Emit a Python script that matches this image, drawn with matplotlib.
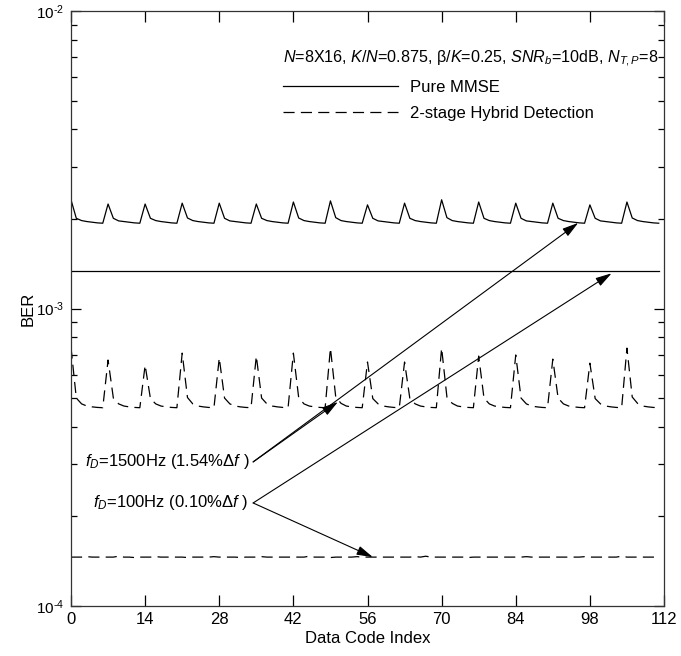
import math
import matplotlib
matplotlib.use("Agg")
import matplotlib.pyplot as plt
from matplotlib.ticker import LogLocator, NullFormatter, FixedLocator, FuncFormatter

plt.rcParams['font.family'] = ['Liberation Sans', 'DejaVu Sans']
plt.rcParams['mathtext.fontset'] = 'custom'
plt.rcParams['mathtext.rm'] = 'Liberation Sans'
plt.rcParams['mathtext.it'] = 'Liberation Sans:italic'
plt.rcParams['mathtext.sf'] = 'Liberation Sans'
plt.rcParams['axes.unicode_minus'] = False
plt.rcParams['lines.scale_dashes'] = False

# ---------------- data ----------------
x_index = list(range(112))

# fD = 1500 Hz, pure MMSE (BER, x1e-3), one row per 7-code period
mmse_1500 = [
    2.32, 2.01, 1.975, 1.96, 1.95, 1.94, 1.935,
    2.245, 2.01, 1.97, 1.96, 1.95, 1.94, 1.935,
    2.245, 2.01, 1.975, 1.96, 1.95, 1.94, 1.935,
    2.26, 2.015, 1.975, 1.96, 1.95, 1.94, 1.935,
    2.26, 2.01, 1.97, 1.96, 1.95, 1.94, 1.935,
    2.245, 2.01, 1.975, 1.96, 1.95, 1.94, 1.935,
    2.28, 2.015, 1.975, 1.96, 1.95, 1.94, 1.935,
    2.30, 2.02, 1.975, 1.96, 1.95, 1.94, 1.935,
    2.23, 2.01, 1.97, 1.96, 1.95, 1.94, 1.935,
    2.26, 2.01, 1.975, 1.96, 1.95, 1.94, 1.935,
    2.32, 2.02, 1.975, 1.96, 1.95, 1.94, 1.935,
    2.28, 2.01, 1.975, 1.96, 1.95, 1.94, 1.935,
    2.26, 2.01, 1.97, 1.96, 1.95, 1.94, 1.935,
    2.26, 2.01, 1.975, 1.96, 1.95, 1.94, 1.935,
    2.23, 2.01, 1.97, 1.96, 1.95, 1.94, 1.935,
    2.28, 2.015, 1.975, 1.96, 1.95, 1.94, 1.935,
]

# fD = 1500 Hz, 2-stage hybrid detection (BER, x1e-4)
hybrid_1500 = [
    7.40, 5.00, 4.78, 4.70, 4.67, 4.65, 4.64,
    6.71, 5.00, 4.78, 4.70, 4.67, 4.65, 4.64,
    6.45, 4.98, 4.78, 4.70, 4.67, 4.65, 4.64,
    7.08, 5.02, 4.78, 4.70, 4.67, 4.65, 4.64,
    6.82, 5.00, 4.78, 4.70, 4.67, 4.65, 4.64,
    6.92, 5.00, 4.78, 4.70, 4.67, 4.65, 4.64,
    7.08, 5.02, 4.78, 4.70, 4.67, 4.65, 4.64,
    7.36, 5.04, 4.80, 4.70, 4.67, 4.65, 4.64,
    6.61, 4.98, 4.78, 4.70, 4.67, 4.65, 4.64,
    6.61, 4.98, 4.78, 4.70, 4.67, 4.65, 4.64,
    7.36, 5.04, 4.80, 4.70, 4.67, 4.65, 4.64,
    6.92, 5.00, 4.78, 4.70, 4.67, 4.65, 4.64,
    6.98, 5.00, 4.78, 4.70, 4.67, 4.65, 4.64,
    6.76, 5.00, 4.78, 4.70, 4.67, 4.65, 4.64,
    6.55, 4.98, 4.78, 4.70, 4.67, 4.65, 4.64,
    7.36, 5.04, 4.80, 4.70, 4.67, 4.65, 4.64,
]

# fD = 100 Hz, pure MMSE (BER, x1e-3)
mmse_100 = [
    1.336, 1.336, 1.336, 1.336, 1.336, 1.336, 1.336,
    1.336, 1.336, 1.336, 1.336, 1.336, 1.336, 1.336,
    1.336, 1.336, 1.336, 1.336, 1.336, 1.336, 1.336,
    1.336, 1.336, 1.336, 1.336, 1.336, 1.336, 1.336,
    1.336, 1.336, 1.336, 1.336, 1.336, 1.336, 1.336,
    1.336, 1.336, 1.336, 1.336, 1.336, 1.336, 1.336,
    1.336, 1.336, 1.336, 1.336, 1.336, 1.336, 1.336,
    1.336, 1.336, 1.336, 1.336, 1.336, 1.336, 1.336,
    1.336, 1.336, 1.336, 1.336, 1.336, 1.336, 1.336,
    1.336, 1.336, 1.336, 1.336, 1.336, 1.336, 1.336,
    1.336, 1.336, 1.336, 1.336, 1.336, 1.336, 1.336,
    1.336, 1.336, 1.336, 1.336, 1.336, 1.336, 1.336,
    1.336, 1.336, 1.336, 1.336, 1.336, 1.336, 1.336,
    1.336, 1.336, 1.336, 1.336, 1.336, 1.336, 1.336,
    1.336, 1.336, 1.336, 1.336, 1.336, 1.336, 1.336,
    1.336, 1.336, 1.336, 1.336, 1.336, 1.336, 1.336,
]

# fD = 100 Hz, 2-stage hybrid detection (BER, x1e-4)
hybrid_100 = [
    1.46, 1.46, 1.46, 1.465, 1.46, 1.46, 1.46,
    1.46, 1.46, 1.47, 1.46, 1.46, 1.455, 1.46,
    1.46, 1.46, 1.465, 1.46, 1.46, 1.46, 1.46,
    1.46, 1.455, 1.46, 1.46, 1.46, 1.46, 1.465,
    1.46, 1.46, 1.46, 1.46, 1.455, 1.46, 1.46,
    1.46, 1.465, 1.46, 1.46, 1.46, 1.46, 1.46,
    1.46, 1.46, 1.46, 1.47, 1.46, 1.46, 1.46,
    1.455, 1.46, 1.46, 1.46, 1.46, 1.465, 1.46,
    1.46, 1.46, 1.46, 1.46, 1.46, 1.46, 1.46,
    1.46, 1.46, 1.465, 1.46, 1.47, 1.46, 1.46,
    1.46, 1.46, 1.46, 1.46, 1.46, 1.455, 1.46,
    1.46, 1.46, 1.46, 1.46, 1.46, 1.46, 1.46,
    1.46, 1.46, 1.465, 1.46, 1.46, 1.46, 1.46,
    1.46, 1.46, 1.46, 1.46, 1.46, 1.46, 1.465,
    1.46, 1.46, 1.46, 1.46, 1.46, 1.46, 1.47,
    1.46, 1.46, 1.46, 1.46, 1.46, 1.46, 1.46,
]

x_ticks = [0, 14, 28, 42, 56, 70, 84, 98, 112]

param_text = r'$N$=8X16, $K/N$=0.875, β/$K$=0.25, $SNR_b$=10dB, $N_{T,P}$=8'
legend_labels = ['Pure MMSE', '2-stage Hybrid Detection']
label_1500 = r'$f_D$=1500Hz (1.54%Δ$f$ )'
label_100 = r'$f_D$=100Hz (0.10%Δ$f$ )'

# annotation anchor points (data coords): label end -> arrow tips
start_1500 = (34.4, 3.05e-4)
tips_1500 = [(50.4, 4.85e-4), (95.8, 1.94e-3)]
start_100 = (34.4, 2.22e-4)
tips_100 = [(102.1, 1.313e-3), (57.0, 1.46e-4)]

# ---------------- plot ----------------
W, H = 681, 656
fig = plt.figure(figsize=(W / 100, H / 100), dpi=100)
ax = fig.add_axes([71 / W, 1 - 606 / H, 593 / W, 595 / H])

dash = (0, (8, 4.5))
lw = 0.9
l1, = ax.plot(x_index, [v * 1e-3 for v in mmse_1500], color='black', lw=lw)
l2, = ax.plot(x_index, [v * 1e-4 for v in hybrid_1500], color='black', lw=lw, linestyle=dash)
ax.plot(x_index, [v * 1e-3 for v in mmse_100], color='black', lw=lw)
ax.plot(x_index, [v * 1e-4 for v in hybrid_100], color='black', lw=lw, linestyle=dash)

ax.set_yscale('log')
ax.set_xlim(0, 112)
ax.set_ylim(1e-4, 1e-2)
ax.xaxis.set_major_locator(FixedLocator(x_ticks))
ax.yaxis.set_major_locator(LogLocator(base=10, numticks=10))
ax.yaxis.set_minor_locator(LogLocator(base=10, subs=range(2, 10), numticks=20))
ax.yaxis.set_minor_formatter(NullFormatter())


def log_fmt(v, pos):
    e = int(round(math.log10(v)))
    if e < 0:
        return r'$\mathdefault{10^{\text{-}%d}}$' % (-e)
    return r'$\mathdefault{10^{%d}}$' % e


ax.yaxis.set_major_formatter(FuncFormatter(log_fmt))

ax.tick_params(axis='both', which='both', direction='in', top=True, right=True,
               colors='black', width=0.9)
ax.tick_params(axis='x', which='major', length=8, pad=4, labelsize=12)
ax.tick_params(axis='y', which='major', length=7, pad=5, labelsize=11)
ax.tick_params(axis='y', which='minor', length=4.5)
for s in ax.spines.values():
    s.set_linewidth(0.9)
    s.set_color('#333333')

ax.set_xlabel('Data Code Index', fontsize=12, labelpad=3.5)
ax.set_ylabel('BER', fontsize=12)
ax.yaxis.set_label_coords(-(71 - 36) / 593, 0.5)

ax.text(0.3575, 0.9193, param_text, transform=ax.transAxes, ha='left', va='center', fontsize=11.6)
ax.legend([l1, l2], legend_labels, loc='upper left', bbox_to_anchor=(0.3575, 0.8841),
          frameon=False, fontsize=12, handlelength=6.9, handletextpad=0.72,
          borderpad=0, borderaxespad=0, labelspacing=0.68)

ax.text(start_1500[0] - 0.6, start_1500[1], label_1500, ha='right', va='center', fontsize=12)
ax.text(start_100[0] - 0.9, start_100[1], label_100, ha='right', va='center', fontsize=12)

aprops = dict(arrowstyle='-|>,head_length=0.7,head_width=0.2', color='black', lw=0.8,
              mutation_scale=14, shrinkA=0, shrinkB=0)
for tip in tips_1500:
    ax.annotate('', xy=tip, xytext=start_1500, xycoords='data', textcoords='data', arrowprops=aprops)
for tip in tips_100:
    ax.annotate('', xy=tip, xytext=start_100, xycoords='data', textcoords='data', arrowprops=aprops)

fig.savefig('out.png', dpi=100)
